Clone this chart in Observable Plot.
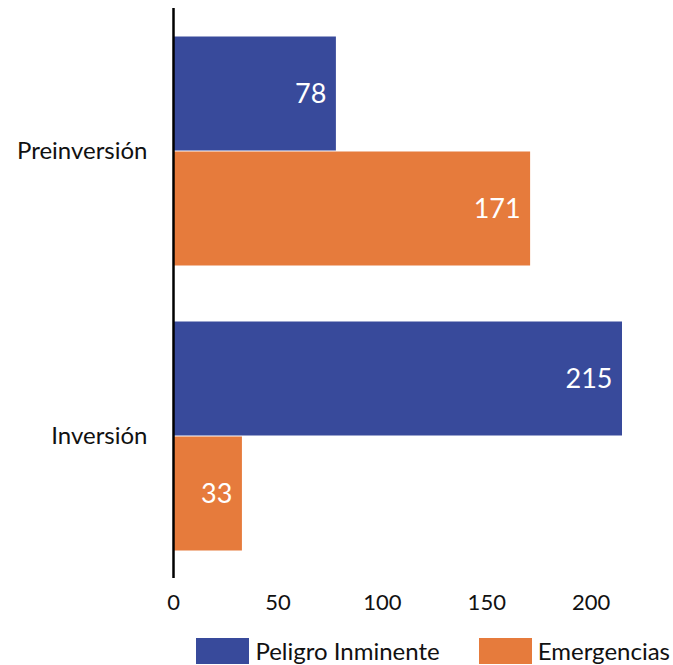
<!DOCTYPE html>
<html>
<head>
<meta charset="utf-8">
<script src="https://cdn.jsdelivr.net/npm/d3@7"></script>
<script src="https://cdn.jsdelivr.net/npm/@observablehq/plot@0.6"></script>
<style>
  html, body { margin: 0; padding: 0; background: #fff; }
  body { width: 673px; font-family: Lato, "Noto Sans", sans-serif; }
  #legend { display: flex; justify-content: flex-end; align-items: center; padding-right: 3px; margin-top: 8px; }
  .item { display: flex; align-items: center; margin-left: 39px; font-size: 24px; color: #111; }
  .sw { width: 53px; height: 26px; margin-right: 6px; }
</style>
</head>
<body>
<div id="chart"></div>
<div id="legend"></div>
<script>
const categories = ["Preinversión", "Inversión"];
const series = ["Peligro Inminente", "Emergencias"];
const colors = ["#384a9b", "#e67b3c"];
const peligroValues = [78, 215];
const emergenciasValues = [171, 33];
const xTicks = [0, 50, 100, 150, 200];

const data = [];
categories.forEach((c, i) => {
  data.push({category: c, series: series[0], value: peligroValues[i]});
  data.push({category: c, series: series[1], value: emergenciasValues[i]});
});

const plot = Plot.plot({
  width: 673,
  height: 628,
  marginLeft: 173,
  marginRight: 51,
  marginTop: 8,
  marginBottom: 50,
  style: {fontFamily: "Lato, 'Noto Sans', sans-serif", fontSize: "22px", color: "#111", background: "#fff"},
  x: {domain: [0, 215], ticks: xTicks, tickSize: 0, tickPadding: 16, label: null, tickFormat: d => String(d)},
  y: {domain: series, axis: null, padding: 0, paddingOuter: 0.234},
  fy: {domain: categories, padding: 0, label: null, tickSize: 0, tickPadding: 26, axis: "left"},
  color: {domain: series, range: colors},
  facet: {data: data, y: "category", marginLeft: 173},
  marks: [
    Plot.barX(data, {x: "value", y: "series", fill: "series", insetTop: 0.5, insetBottom: 0.5}),
    Plot.text(data, {x: "value", y: "series", text: d => String(d.value), textAnchor: "end", dx: -10, fill: "white", fontSize: 27}),
    Plot.ruleX([0], {stroke: "black", strokeWidth: 2.5})
  ]
});
document.getElementById("chart").appendChild(plot);
plot.querySelectorAll("[aria-label='fy-axis tick label'] text, [aria-label='fy-axis'] text").forEach(t => t.setAttribute("font-size", "24"));
plot.querySelectorAll("g[aria-label^='fy-axis']").forEach(g => g.setAttribute("font-size", "24"));

const legend = document.getElementById("legend");
series.forEach((s, i) => {
  const item = document.createElement("div");
  item.className = "item";
  const sw = document.createElement("div");
  sw.className = "sw";
  sw.style.background = colors[i];
  const label = document.createElement("span");
  label.textContent = s;
  item.appendChild(sw);
  item.appendChild(label);
  legend.appendChild(item);
});
</script>
</body>
</html>
